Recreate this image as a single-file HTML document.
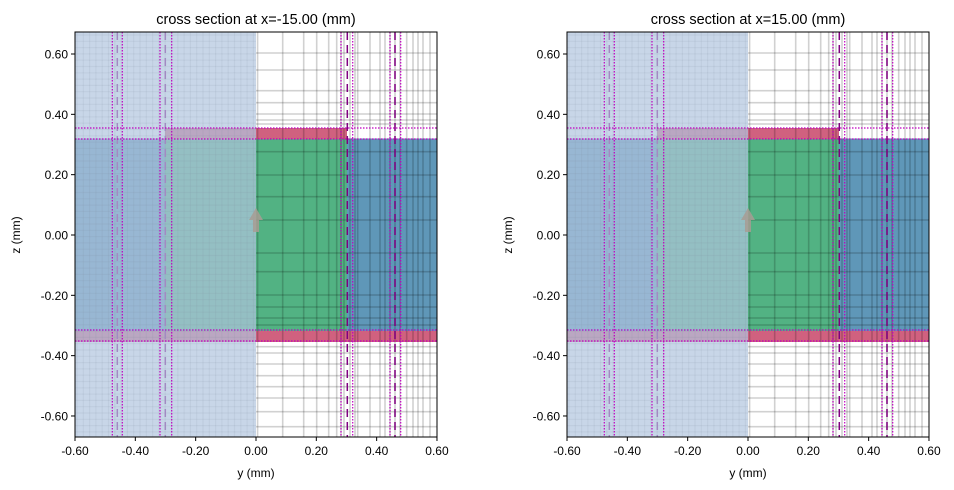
<!DOCTYPE html>
<html><head><meta charset="utf-8"><style>
html,body{margin:0;padding:0;background:#fff;}
svg{display:block;font-family:"Liberation Sans","DejaVu Sans",sans-serif;}
</style></head><body>
<svg id="s" width="954" height="490" viewBox="0 0 954 490" xmlns="http://www.w3.org/2000/svg"></svg>
<script>
const S=document.getElementById('s');
let h='<defs><clipPath id="c"><rect x="75" y="32" width="362" height="405"/></clipPath></defs>';
const vx=[257.6,282.7,303.7,316.7,328.7,336.7,341,344,350,355,357.7,370,380,385,390,395,400,406.7,413,418,423,430];
const hy=[53,70,90.7,102.7,114,120,124,151.7,175,196.7,220,253,271.7,295,307,318,325,346.7,353,364,375.7,386.7,398,411.7,426.7];
function panel(dx,title){
  let g='<g transform="translate('+dx+',0)"><g clip-path="url(#c)">';
  g+='<rect x="75" y="138.5" width="362" height="193" fill="#5f97b8"/>';
  g+='<rect x="165" y="138.5" width="182" height="193" fill="#52b283"/>';
  g+='<rect x="165" y="128" width="182" height="11" fill="#d0617f"/>';
  g+='<rect x="75" y="331" width="362" height="11" fill="#d0617f"/>';
  for(const x of vx) g+='<line x1="'+x+'" y1="32" x2="'+x+'" y2="437" stroke="#000" stroke-opacity="0.18" stroke-width="1.6"/>';
  for(const y of hy) g+='<line x1="256" y1="'+y+'" x2="437" y2="'+y+'" stroke="#000" stroke-opacity="0.18" stroke-width="1.6"/>';
  for(let x=77;x<256;x+=6.3) g+='<line x1="'+x+'" y1="32" x2="'+x+'" y2="437" stroke="#000" stroke-opacity="0.12" stroke-width="1.2"/>';
  for(let y=35;y<437;y+=6.3) g+='<line x1="75" y1="'+y+'" x2="256" y2="'+y+'" stroke="#000" stroke-opacity="0.12" stroke-width="1.2"/>';
  for(const x of [117.3,165.3,347.3,395]) g+='<line x1="'+x+'" y1="32" x2="'+x+'" y2="437" stroke="#800080" stroke-width="1.5" stroke-dasharray="8,5"/>';
  g+='<rect x="75" y="32" width="181" height="405" fill="#b0c4de" fill-opacity="0.7"/>';
  g+='<path d="M253 232 L253 220 L249 220 L256 208 L263 220 L259 220 L259 232 Z" fill="#a89c94" fill-opacity="0.85"/>';
  for(const x of [112.3,122.3,160,171.7,341,352.7,390,400.7]) g+='<line x1="'+x+'" y1="32" x2="'+x+'" y2="437" stroke="#c000c0" stroke-width="1.2" stroke-dasharray="1.5,1.5"/>';
  for(const y of [128,139,330,341]) g+='<line x1="75" y1="'+y+'" x2="437" y2="'+y+'" stroke="#c000c0" stroke-width="1.2" stroke-dasharray="1.5,1.5"/>';
  g+='</g><rect x="75" y="32" width="362" height="405" fill="none" stroke="#000" stroke-width="1"/>';
  const xl=['-0.60','-0.40','-0.20','0.00','0.20','0.40','0.60'];
  for(let i=0;i<7;i++){const x=75+i*60.33;g+='<line x1="'+x+'" y1="437" x2="'+x+'" y2="441" stroke="#000"/><text x="'+x+'" y="455" font-size="12" text-anchor="middle">'+xl[i]+'</text>';}
  const yl=['0.60','0.40','0.20','0.00','-0.20','-0.40','-0.60'];
  for(let i=0;i<7;i++){const y=54+i*60.33;g+='<line x1="71" y1="'+y+'" x2="75" y2="'+y+'" stroke="#000"/><text x="68" y="'+(y+4.5)+'" font-size="12" text-anchor="end">'+yl[i]+'</text>';}
  g+='<text x="256" y="477" font-size="12" text-anchor="middle">y (mm)</text>';
  g+='<text transform="translate(20,235) rotate(-90)" font-size="12" text-anchor="middle">z (mm)</text>';
  g+='<text x="256" y="24" font-size="14.5" text-anchor="middle">'+title+'</text></g>';
  return g;
}
h+=panel(0,'cross section at x=-15.00 (mm)');
h+=panel(492,'cross section at x=15.00 (mm)');
S.innerHTML=h;
</script>
</body></html>
